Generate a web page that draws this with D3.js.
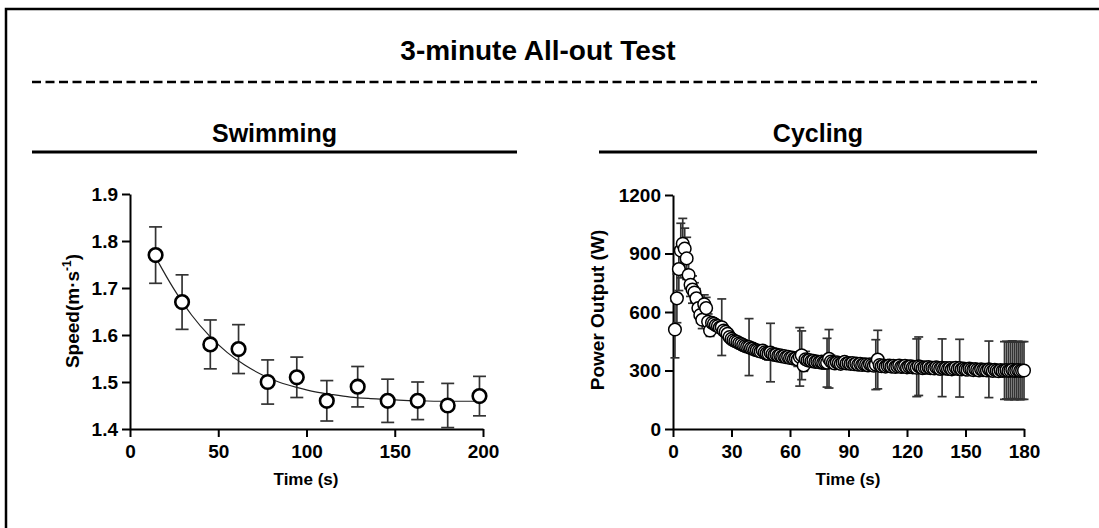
<!DOCTYPE html>
<html>
<head>
<meta charset="utf-8">
<script src="https://cdn.jsdelivr.net/npm/d3@7"></script>
<style>
  body { margin: 0; background: #fff; overflow: hidden; }
  svg { display: block; }
  svg text { font-family: "Liberation Sans", Arial, sans-serif; font-weight: bold; fill: #000; }
</style>
</head>
<body>
<svg id="drawing_region"></svg>
<script>
// ---- data ----
const swimTime  = [14.5, 29.5, 45.5, 61.5, 78, 94.5, 111.5, 129, 146, 163, 180, 198];
const swimSpeed = [1.77, 1.67, 1.58, 1.57, 1.50, 1.51, 1.46, 1.49, 1.46, 1.46, 1.45, 1.47];
const swimSD    = [0.060, 0.058, 0.052, 0.052, 0.047, 0.043, 0.043, 0.043, 0.046, 0.040, 0.047, 0.042];
const swimFitTime  = [15, 25, 35, 45, 55, 65, 75, 85, 95, 105, 115, 125, 135, 145, 155, 165, 175, 185, 198];
const swimFitSpeed = [1.762, 1.697, 1.642, 1.598, 1.563, 1.536, 1.515, 1.499, 1.488, 1.479, 1.473, 1.468, 1.465, 1.463, 1.461, 1.460, 1.459, 1.459, 1.459];
const swimXTicks = [0, 50, 100, 150, 200];
const swimYTicks = [1.4, 1.5, 1.6, 1.7, 1.8, 1.9];

// cycling: one value per second, 1..180
const cycPower = [
  510, 670, 820, 915, 950, 925, 875, 790, 740, 715,
  700, 670, 620, 585, 560, 640, 620, 550, 505, 545,
  540, 532, 528, 520, 522, 505, 498, 488, 472, 462,
  455, 450, 446, 440, 436, 430, 426, 422, 420, 414,
  412, 406, 404, 400, 397, 402, 393, 388, 386, 392,
  384, 380, 382, 376, 378, 372, 374, 368, 370, 364,
  366, 360, 362, 356, 370, 378, 326, 358, 352, 354,
  348, 350, 344, 346, 342, 344, 340, 342, 340, 360,
  346, 340, 336, 342, 338, 334, 340, 344, 336, 338,
  334, 338, 332, 336, 330, 334, 328, 332, 330, 326,
  332, 328, 324, 330, 356, 328, 322, 326, 320, 324,
  326, 320, 324, 318, 322, 326, 318, 320, 324, 316,
  320, 322, 316, 318, 314, 322, 318, 312, 316, 314,
  318, 312, 314, 310, 316, 312, 308, 314, 310, 312,
  308, 312, 306, 310, 314, 308, 312, 306, 310, 306,
  304, 310, 306, 302, 308, 304, 300, 306, 302, 304,
  300, 306, 302, 298, 304, 300, 296, 302, 298, 300,
  302, 298, 300, 304, 298, 300, 302, 298, 300, 300
];
const cycSD = [
  145, 125, 110, 140, 130, 105, 108, 70, 60, 70,
  50, 50, 45, 40, 45, 48, 55, 40, 30, 25,
  22, 20, 20, 22, 145, 20, 18, 18, 16, 16,
  16, 15, 15, 15, 16, 15, 15, 18, 146, 18,
  16, 16, 18, 20, 22, 24, 28, 30, 32, 150,
  30, 25, 22, 20, 20, 18, 18, 18, 18, 20,
  20, 22, 25, 35, 150, 125, 30, 40, 20, 18,
  18, 16, 16, 16, 16, 18, 30, 35, 125, 150,
  32, 20, 18, 16, 16, 16, 18, 20, 16, 16,
  16, 16, 16, 16, 16, 16, 16, 16, 16, 16,
  18, 20, 25, 128, 150, 25, 30, 20, 18, 16,
  16, 16, 16, 16, 16, 16, 16, 18, 20, 22,
  25, 28, 30, 25, 148, 150, 25, 20, 18, 16,
  16, 16, 16, 18, 20, 22, 25, 148, 22, 18,
  16, 16, 18, 22, 28, 25, 148, 30, 22, 18,
  20, 25, 28, 22, 18, 16, 16, 16, 18, 22,
  22, 145, 22, 18, 16, 16, 16, 18, 20, 148,
  148, 148, 148, 148, 148, 148, 148, 148, 148, 148
];
const cycTime = cycPower.map( (d, i) => i + 1 );
const cycXTicks = [0, 30, 60, 90, 120, 150, 180];
const cycYTicks = [0, 300, 600, 900, 1200];

// ---- drawing ----
const svg = d3.select( '#drawing_region' )
  .attr( 'width', 1099 )
  .attr( 'height', 528 );

// frame (only top and left edges fall inside the picture)
svg.append( 'rect' )
  .attr( 'x', 6 ).attr( 'y', 9 )
  .attr( 'width', 1200 ).attr( 'height', 600 )
  .attr( 'fill', 'none' ).attr( 'stroke', '#000' ).attr( 'stroke-width', 2.5 );

svg.append( 'text' )
  .attr( 'x', 538 ).attr( 'y', 60 )
  .attr( 'text-anchor', 'middle' )
  .style( 'font-size', '28px' )
  .text( '3-minute All-out Test' );

svg.append( 'line' )
  .attr( 'x1', 32 ).attr( 'x2', 1037 )
  .attr( 'y1', 82 ).attr( 'y2', 82 )
  .attr( 'stroke', '#000' ).attr( 'stroke-width', 2.5 )
  .attr( 'stroke-dasharray', '9,4.5' );

function panelTitle( label, x1, x2 ) {
  svg.append( 'text' )
    .attr( 'x', (x1 + x2) / 2 ).attr( 'y', 142 )
    .attr( 'text-anchor', 'middle' )
    .style( 'font-size', '25px' )
    .text( label );
  svg.append( 'line' )
    .attr( 'x1', x1 ).attr( 'x2', x2 )
    .attr( 'y1', 152 ).attr( 'y2', 152 )
    .attr( 'stroke', '#000' ).attr( 'stroke-width', 3 );
}
panelTitle( 'Swimming', 32, 517 );
panelTitle( 'Cycling', 599, 1037 );

function styleAxis( g ) {
  g.selectAll( 'path, line' ).attr( 'stroke', '#000' ).attr( 'stroke-width', 2 );
  g.selectAll( 'text' ).style( 'font-size', '19px' ).attr( 'fill', '#000' );
}

// ---- swimming panel ----
const sx = d3.scaleLinear().domain( [0, 200] ).range( [130, 483] );
const sy = d3.scaleLinear().domain( [1.4, 1.9] ).range( [429, 194] );

const swim = svg.append( 'g' );

swim.append( 'g' )
  .attr( 'transform', 'translate(0,429)' )
  .call( d3.axisBottom( sx ).tickValues( swimXTicks ).tickSize( 8 ).tickSizeOuter( 0 ).tickPadding( 8 ) )
  .call( styleAxis );

swim.append( 'g' )
  .attr( 'transform', 'translate(130,0)' )
  .call( d3.axisLeft( sy ).tickValues( swimYTicks ).tickFormat( d3.format( '.1f' ) ).tickSize( 8 ).tickSizeOuter( 0 ).tickPadding( 4 ) )
  .call( styleAxis );

const swimData = swimTime.map( (t, i) => ({ t: t, v: swimSpeed[i], sd: swimSD[i] }) );

const swimBars = swim.append( 'g' ).attr( 'stroke', '#333' ).attr( 'stroke-width', 1.7 );
swimData.forEach( d => {
  const x = sx( d.t ), y1 = sy( d.v + d.sd ), y2 = sy( d.v - d.sd );
  swimBars.append( 'line' ).attr( 'x1', x ).attr( 'x2', x ).attr( 'y1', y1 ).attr( 'y2', y2 );
  swimBars.append( 'line' ).attr( 'x1', x - 6.5 ).attr( 'x2', x + 6.5 ).attr( 'y1', y1 ).attr( 'y2', y1 );
  swimBars.append( 'line' ).attr( 'x1', x - 6.5 ).attr( 'x2', x + 6.5 ).attr( 'y1', y2 ).attr( 'y2', y2 );
});

swim.append( 'path' )
  .datum( swimFitTime.map( (t, i) => [t, swimFitSpeed[i]] ) )
  .attr( 'fill', 'none' ).attr( 'stroke', '#222' ).attr( 'stroke-width', 1.2 )
  .attr( 'd', d3.line().x( d => sx( d[0] ) ).y( d => sy( d[1] ) ).curve( d3.curveMonotoneX ) );

swim.selectAll( 'circle' )
  .data( swimData )
  .enter()
  .append( 'circle' )
  .attr( 'cx', d => sx( d.t ) )
  .attr( 'cy', d => sy( d.v ) )
  .attr( 'r', 6.8 )
  .attr( 'fill', '#fff' ).attr( 'stroke', '#000' ).attr( 'stroke-width', 2.6 );

swim.append( 'text' )
  .attr( 'x', 306 ).attr( 'y', 485 )
  .attr( 'text-anchor', 'middle' )
  .style( 'font-size', '17px' )
  .text( 'Time (s)' );

const swimLabel = swim.append( 'text' )
  .attr( 'transform', 'translate(79,311) rotate(-90)' )
  .attr( 'text-anchor', 'middle' )
  .style( 'font-size', '19px' );
swimLabel.append( 'tspan' ).text( 'Speed(m·s' );
swimLabel.append( 'tspan' ).attr( 'dy', -8 ).style( 'font-size', '12px' ).text( '-1' );
swimLabel.append( 'tspan' ).attr( 'dy', 8 ).text( ')' );

// ---- cycling panel ----
const cx = d3.scaleLinear().domain( [0, 180] ).range( [673, 1024] );
const cy = d3.scaleLinear().domain( [0, 1200] ).range( [429, 195] );

const cyc = svg.append( 'g' );

cyc.append( 'g' )
  .attr( 'transform', 'translate(0,429)' )
  .call( d3.axisBottom( cx ).tickValues( cycXTicks ).tickSize( 8 ).tickSizeOuter( 0 ).tickPadding( 8 ) )
  .call( styleAxis );

cyc.append( 'g' )
  .attr( 'transform', 'translate(673,0)' )
  .call( d3.axisLeft( cy ).tickValues( cycYTicks ).tickFormat( d3.format( 'd' ) ).tickSize( 8 ).tickSizeOuter( 0 ).tickPadding( 4 ) )
  .call( styleAxis );

const cycData = cycTime.map( (t, i) => ({ t: t, v: cycPower[i], sd: cycSD[i] }) );

const cycBars = cyc.append( 'g' ).attr( 'stroke', '#333' ).attr( 'stroke-width', 1.7 );
cycData.forEach( d => {
  const x = cx( d.t ), y1 = cy( d.v + d.sd ), y2 = cy( d.v - d.sd );
  cycBars.append( 'line' ).attr( 'x1', x ).attr( 'x2', x ).attr( 'y1', y1 ).attr( 'y2', y2 );
  cycBars.append( 'line' ).attr( 'x1', x - 4.5 ).attr( 'x2', x + 4.5 ).attr( 'y1', y1 ).attr( 'y2', y1 );
  cycBars.append( 'line' ).attr( 'x1', x - 4.5 ).attr( 'x2', x + 4.5 ).attr( 'y1', y2 ).attr( 'y2', y2 );
});

cyc.selectAll( 'circle' )
  .data( cycData )
  .enter()
  .append( 'circle' )
  .attr( 'cx', d => cx( d.t ) )
  .attr( 'cy', d => cy( d.v ) )
  .attr( 'r', 6.3 )
  .attr( 'fill', '#fff' ).attr( 'stroke', '#000' ).attr( 'stroke-width', 1.5 );

cyc.append( 'text' )
  .attr( 'x', 848 ).attr( 'y', 485 )
  .attr( 'text-anchor', 'middle' )
  .style( 'font-size', '17px' )
  .text( 'Time (s)' );

cyc.append( 'text' )
  .attr( 'transform', 'translate(604,310) rotate(-90)' )
  .attr( 'text-anchor', 'middle' )
  .style( 'font-size', '19px' )
  .text( 'Power Output (W)' );
</script>
</body>
</html>
